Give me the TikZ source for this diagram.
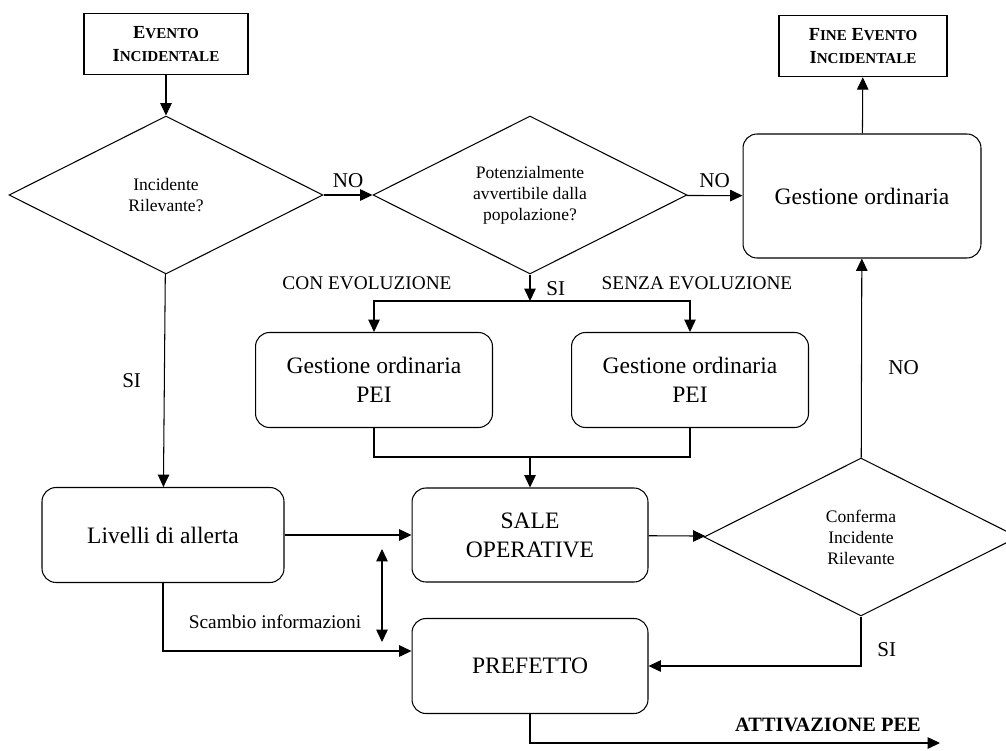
\documentclass[tikz,border=0pt]{standalone}
\usepackage{fontspec}
\setmainfont{Liberation Serif}
\usepackage{tikz}
\usetikzlibrary{positioning, arrows.meta, shapes.geometric, calc}
\newcommand{\capsc}[2]{#1{\fontsize{8.6}{10}\selectfont #2}}
\tikzset{
  box/.style={draw, rounded corners=0.28cm, align=center,
              font=\fontsize{13.4}{16.5}\selectfont,
              minimum width=4.72cm, minimum height=1.9cm, inner sep=2pt},
  term/.style={draw, line width=0.9pt, align=center,
               font=\bfseries\fontsize{10.5}{13}\selectfont,
               minimum height=1.22cm, inner sep=2pt},
  dec/.style={diamond, draw, align=center, font=\fontsize{10}{12}\selectfont,
              shape aspect=2, minimum width=6.28cm, minimum height=3.16cm,
              inner sep=0pt},
  lbl/.style={font=\fontsize{12}{14}\selectfont, inner sep=1pt},
  tag/.style={font=\fontsize{11}{13}\selectfont, inner sep=1pt},
  arr/.style={-{Triangle[length=7pt, width=6.5pt]}},
  arr2/.style={{Triangle[length=7pt, width=6.5pt]}-{Triangle[length=7pt, width=6.5pt]}},
}

\begin{document}
\begin{tikzpicture}[x=0.02cm, y=-0.02cm, line width=0.6pt]
  \useasboundingbox (0,0) rectangle (1006,750);

  % terminals
  \node[term, minimum width=3.28cm] (ev) at (166,44)
       {\capsc{E}{VENTO}\\\capsc{I}{NCIDENTALE}};
  \node[term, minimum width=3.36cm] (fine) at (863,46)
       {\capsc{F}{INE} \capsc{E}{VENTO}\\\capsc{I}{NCIDENTALE}};

  % decisions
  \node[dec] (q1) at (166,195) {Incidente\\Rilevante?};
  \node[dec] (q2) at (530,195) {Potenzialmente\\avvertibile dalla\\popolazione?};
  \node[dec] (q3) at (861,537) {Conferma\\Incidente\\Rilevante};

  % process boxes
  \node[box, minimum width=4.76cm, minimum height=2.48cm] (ord) at (862,196)
       {Gestione ordinaria};
  \node[box, minimum width=4.74cm] (peiA) at (374,380) {Gestione ordinaria\\PEI};
  \node[box, minimum width=4.74cm] (peiB) at (690,380) {Gestione ordinaria\\PEI};
  \node[box, minimum height=1.88cm] (sale) at (530,535) {SALE\\OPERATIVE};
  \node[box, minimum width=4.84cm] (liv) at (163,535) {Livelli di allerta};
  \node[box] (prf) at (530,666) {PREFETTO};

  \coordinate (split) at (530,301);
  \coordinate (join) at (530,457);
  \coordinate (xtop) at (382,549);
  \coordinate (xbot) at (382,642);
  \coordinate (pee) at (940,743);

  \node[tag] (con) at (367,283) {CON EVOLUZIONE};
  \node[tag] (senza) at (697,283) {SENZA EVOLUZIONE};
  \node[tag] (scambio) at (275,622) {Scambio informazioni};
  \node[font=\bfseries\fontsize{11.6}{13}\selectfont, inner sep=1pt] (act)
       at (828,725) {ATTIVAZIONE PEE};

  \draw[arr] (ev) -- (q1);
  \draw[arr] (q1) -- node[lbl, above=3pt] (no1) {NO} (q2);
  \draw[arr] (q2) -- node[lbl, above=3pt] (no2) {NO} (ord);
  \draw[arr] (ord) -- (fine);
  \draw[arr] (q2) -- node[lbl, right=8pt, pos=0.55] (si2) {SI} (split);
  \draw[arr] (split) -| (peiA);
  \draw[arr] (split) -| (peiB);
  \draw (peiA) |- (join) -| (peiB);
  \draw[arr] (join) -- (sale);
  \draw[arr] (q1) -- node[lbl, left=12pt, pos=0.5] (si1) {SI} (liv);
  \draw[arr] (liv) -- (sale);
  \draw[arr] (sale) -- (q3);
  \draw[arr] (q3) -- node[lbl, right=14pt, pos=0.45] (no3) {NO} (ord);
  \draw[arr] (q3) |- node[lbl, above right=1pt and 8pt, pos=0.45] (si3) {SI} (prf);
  \draw[arr] (liv) |- ($(prf.west)+(0,-15)$);
  \draw[arr2] (xtop) -- (xbot);
  \draw[arr] (prf) |- (pee);
\end{tikzpicture}
\end{document}
